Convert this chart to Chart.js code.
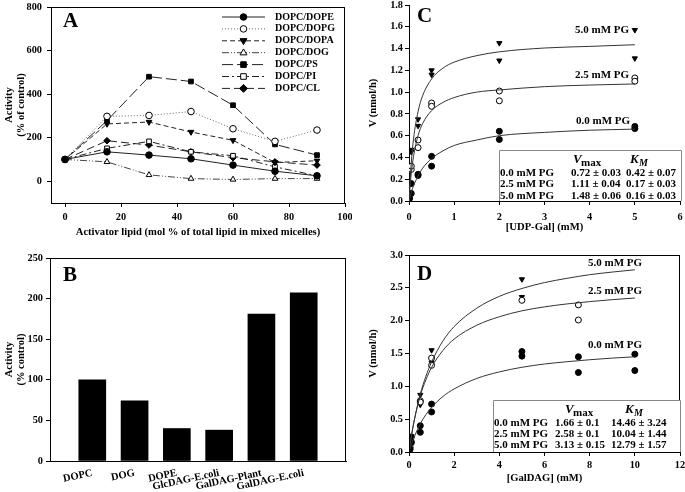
<!DOCTYPE html>
<html><head><meta charset="utf-8">
<script src="https://cdn.jsdelivr.net/npm/chart.js@4.4.0/dist/chart.umd.min.js"></script>
<style>
html,body{margin:0;padding:0;background:#fff;}
#wrap{position:relative;width:685px;height:492px;overflow:hidden;background:#fff;}
canvas{position:absolute;}
</style></head><body>
<div id="wrap">
<canvas id="cA" width="352" height="245" style="left:0;top:0"></canvas>
<canvas id="cB" width="352" height="247" style="left:0;top:245px"></canvas>
<canvas id="cC" width="333" height="245" style="left:352px;top:0"></canvas>
<canvas id="cD" width="333" height="247" style="left:352px;top:245px"></canvas>
</div>
<script>
// ---------- Panel A data ----------
const lipidPct = [0, 15, 30, 45, 60, 75, 90];
const namesA = ['DOPC/DOPE','DOPC/DOPG','DOPC/DOPA','DOPC/DOG','DOPC/PS','DOPC/PI','DOPC/CL'];
const dopcDope = [100, 135, 120, 103, 74, 46, 25];
const dopcDopg = [100, 298, 302, 320, 241, 183, 235];
const dopcDopa = [100, 263, 272, 226, 188, 86, 94];
const dopcDog  = [100, 89, 29, 12, 8, 12, 12];
const dopcPs   = [100, 278, 480, 458, 349, 169, 120];
const dopcPi   = [100, 151, 183, 135, 117, 66, 25];
const dopcCl   = [100, 186, 166, 135, 108, 89, 74];
const xTicksA = [0, 20, 40, 60, 80, 100];
const yTicksA = [0, 200, 400, 600, 800];

// ---------- Panel B data ----------
const lipidsB = ['DOPC','DOG','DOPE','GlcDAG-E.coli','GalDAG-Plant','GalDAG-E.coli'];
const activityB = [100, 74, 40, 38, 181, 207];
const yTicksB = [0, 50, 100, 150, 200, 250];

// ---------- Panel C data (UDP-Gal) ----------
const pgLevels = ['0.0 mM PG','2.5 mM PG','5.0 mM PG'];
const c00x = [0.01, 0.05, 0.05, 0.2, 0.2, 0.5, 0.5, 2, 2, 5, 5];
const c00y = [0.02, 0.07, 0.16, 0.235, 0.245, 0.41, 0.32, 0.64, 0.565, 0.685, 0.665];
const c25x = [0.01, 0.05, 0.05, 0.2, 0.2, 0.5, 0.5, 2, 2, 5, 5];
const c25y = [0.03, 0.29, 0.32, 0.56, 0.49, 0.90, 0.87, 1.01, 0.92, 1.13, 1.10];
const c50x = [0.01, 0.05, 0.05, 0.2, 0.2, 0.5, 0.5, 2, 2, 5, 5];
const c50y = [0.04, 0.47, 0.45, 0.75, 0.69, 1.20, 1.16, 1.45, 1.29, 1.57, 1.31];
const curveCx  = [0, 0.02, 0.05, 0.1, 0.2, 0.3, 0.5, 0.75, 1, 1.5, 2, 3, 4, 5];
const curveC00 = [0, 0.03, 0.08, 0.14, 0.23, 0.30, 0.39, 0.46, 0.51, 0.56, 0.60, 0.63, 0.65, 0.66];
const curveC25 = [0, 0.12, 0.25, 0.41, 0.60, 0.71, 0.83, 0.905, 0.95, 1.00, 1.02, 1.05, 1.065, 1.075];
const curveC50 = [0, 0.16, 0.35, 0.57, 0.82, 0.965, 1.12, 1.22, 1.275, 1.335, 1.37, 1.405, 1.42, 1.435];
const vmaxC = ['0.72 ± 0.03','1.11 ± 0.04','1.48 ± 0.06'];
const kmC   = ['0.42 ± 0.07','0.17 ± 0.03','0.16 ± 0.03'];
const xTicksC = [0, 1, 2, 3, 4, 5, 6];
const yTicksC = [0, 0.2, 0.4, 0.6, 0.8, 1.0, 1.2, 1.4, 1.6, 1.8];

// ---------- Panel D data (GalDAG) ----------
const d00x = [0.05, 0.1, 0.1, 0.5, 0.5, 1, 1, 5, 5, 7.5, 7.5, 10, 10];
const d00y = [0.04, 0.23, 0.14, 0.40, 0.30, 0.73, 0.61, 1.53, 1.46, 1.45, 1.21, 1.49, 1.24];
const d25x = [0.05, 0.1, 0.5, 0.5, 1, 1, 5, 7.5, 7.5];
const d25y = [0.07, 0.16, 0.78, 0.76, 1.43, 1.32, 2.31, 2.24, 2.01];
const d50x = [0.05, 0.1, 0.5, 0.5, 1, 1, 5, 5];
const d50y = [0.08, 0.24, 0.87, 0.72, 1.55, 1.36, 2.63, 2.36];
const curveDx  = [0, 0.1, 0.25, 0.5, 0.75, 1, 1.5, 2, 3, 4, 5, 6, 7, 8, 9, 10];
const curveD00 = [0, 0.11, 0.245, 0.43, 0.57, 0.68, 0.845, 0.96, 1.12, 1.22, 1.29, 1.34, 1.375, 1.405, 1.43, 1.45];
const curveD25 = [0, 0.23, 0.51, 0.86, 1.10, 1.29, 1.545, 1.72, 1.93, 2.06, 2.15, 2.21, 2.255, 2.29, 2.32, 2.345];
const curveD50 = [0, 0.23, 0.51, 0.88, 1.155, 1.37, 1.69, 1.91, 2.19, 2.37, 2.49, 2.58, 2.645, 2.70, 2.74, 2.775];
const vmaxD = ['1.66 ± 0.1','2.58 ± 0.1','3.13 ± 0.15'];
const kmD   = ['14.46 ± 3.24','10.04 ± 1.44','12.79 ± 1.57'];
const xTicksD = [0, 2, 4, 6, 8, 10, 12];
const yTicksD = [0, 0.5, 1.0, 1.5, 2.0, 2.5, 3.0];

// ---------- helpers ----------
const FF = '"Liberation Serif", "Times New Roman", serif';
const fnt = (s, w='bold', st='normal') => ({family: FF, size: s, weight: w, style: st, lineHeight: 1.15});
const pts = (xs, ys) => xs.map((x, i) => ({x, y: ys[i]}));

function marker(ctx, style, x, y, r, fill, stroke, rot) {
  ctx.save(); ctx.translate(x, y); if (rot) ctx.rotate(rot * Math.PI / 180);
  ctx.beginPath();
  if (style === 'circle') ctx.arc(0, 0, r, 0, 2 * Math.PI);
  else if (style === 'triangle') { ctx.moveTo(0, -r * 1.15); ctx.lineTo(r * 1.05, r * 0.65); ctx.lineTo(-r * 1.05, r * 0.65); ctx.closePath(); }
  else if (style === 'rect') ctx.rect(-r * 0.85, -r * 0.85, r * 1.7, r * 1.7);
  else if (style === 'rectRot') { ctx.moveTo(0, -r * 1.2); ctx.lineTo(r * 1.2, 0); ctx.lineTo(0, r * 1.2); ctx.lineTo(-r * 1.2, 0); ctx.closePath(); }
  ctx.setLineDash([]); ctx.fillStyle = fill; ctx.fill(); ctx.lineWidth = 1; ctx.strokeStyle = stroke; ctx.stroke();
  ctx.restore();
}

function yAxis(min, max, ticksArr, width, pad, fmt, title, titlePad) {
  return {
    type: 'linear', min, max,
    afterBuildTicks: s => { s.ticks = ticksArr.map(v => ({value: v})); },
    afterFit: s => { s.width = width; s.paddingTop = 0; s.paddingBottom = 0; },
    border: {display: true, color: '#000', width: 1},
    grid: {display: true, drawOnChartArea: false, drawTicks: true, tickLength: 4, color: '#000'},
    ticks: {color: '#000', font: fnt(10.3), padding: pad, callback: fmt},
    title: {display: true, text: title, color: '#000', font: fnt(10.5), padding: {top: titlePad, bottom: 0}}
  };
}
function xAxis(min, max, ticksArr, height, pad, title, titlePadBottom) {
  return {
    type: 'linear', min, max,
    afterBuildTicks: s => { s.ticks = ticksArr.map(v => ({value: v})); },
    afterFit: s => { s.height = height; s.paddingLeft = 0; s.paddingRight = 0; },
    border: {display: true, color: '#000', width: 1},
    grid: {display: true, drawOnChartArea: false, drawTicks: true, tickLength: 4, color: '#000'},
    ticks: {color: '#000', font: fnt(10.3), padding: pad, maxRotation: 0, autoSkip: false},
    title: {display: true, text: title, color: '#000', font: fnt(10.6), padding: {top: 0, bottom: titlePadBottom}}
  };
}

// annotation plugin: frame, panel letter, legend, labels, tables (page coordinates)
const annot = {
  id: 'annot',
  afterDraw(chart, args, o) {
    const ctx = chart.ctx, ca = chart.chartArea;
    ctx.save();
    if (o.frame) { ctx.strokeStyle = '#000'; ctx.lineWidth = 1; ctx.strokeRect(ca.left + 0.5, ca.top + 0.5, ca.right - ca.left - 1, ca.bottom - ca.top); }
    ctx.translate(-o.ox, -o.oy);
    ctx.fillStyle = '#000'; ctx.textBaseline = 'middle';
    ctx.font = 'bold 21px ' + FF; ctx.textAlign = 'left';
    ctx.fillText(o.letter, o.lx, o.ly);
    if (o.legend) {
      chart.data.datasets.forEach((ds, i) => {
        const y = 17 + i * 11.9;
        ctx.strokeStyle = ds.borderColor; ctx.lineWidth = 1; ctx.setLineDash(ds.borderDash || []);
        ctx.beginPath(); ctx.moveTo(222, y); ctx.lineTo(265, y); ctx.stroke();
        marker(ctx, ds.pointStyle, 243.5, y, 3.3, ds.pointBackgroundColor, '#000', ds.pointRotation || 0);
        ctx.fillStyle = '#000'; ctx.font = 'bold 10px ' + FF; ctx.textAlign = 'left';
        ctx.fillText(ds.label, 275, y);
      });
    }
    if (o.curveLabels) {
      ctx.font = 'bold 11px ' + FF; ctx.textAlign = 'left'; ctx.fillStyle = '#000';
      o.curveLabels.forEach(c => ctx.fillText(c.t, c.x, c.y));
    }
    if (o.table) {
      const t = o.table;
      ctx.fillStyle = '#fff'; ctx.fillRect(t.l, t.t, t.r - t.l, t.b - t.t);
      ctx.strokeStyle = '#888'; ctx.lineWidth = 1; ctx.setLineDash([]);
      ctx.beginPath(); ctx.moveTo(t.l + 0.5, t.b); ctx.lineTo(t.l + 0.5, t.t + 0.5); ctx.lineTo(t.r - 0.5, t.t + 0.5); ctx.lineTo(t.r - 0.5, t.b); ctx.stroke();
      ctx.fillStyle = '#000'; ctx.textAlign = 'left';
      ctx.font = 'italic bold 13px ' + FF; ctx.fillText('V', t.vx, t.hy);
      ctx.font = 'bold 11px ' + FF; ctx.fillText('max', t.vx + 8, t.hy + 3);
      ctx.font = 'italic bold 13px ' + FF; ctx.fillText('K', t.kx, t.hy);
      ctx.font = 'italic bold 10px ' + FF; ctx.fillText('M', t.kx + 9, t.hy + 3);
      ctx.font = 'bold 11px ' + FF;
      pgLevels.forEach((lab, i) => {
        const y = t.ry[i];
        ctx.fillText(lab, t.c1, y);
        ctx.fillText(t.vm[i], t.c2, y);
        ctx.fillText(t.km[i], t.c3, y);
      });
    }
    ctx.restore();
  }
};
Chart.register(annot);

// ---------- Panel A ----------
const seriesA = [dopcDope, dopcDopg, dopcDopa, dopcDog, dopcPs, dopcPi, dopcCl];
const styleA = [
  {dash: [], ps: 'circle', fill: '#000', rot: 0, col: '#222'},
  {dash: [1, 2], ps: 'circle', fill: '#fff', rot: 0, col: '#666'},
  {dash: [5, 3], ps: 'triangle', fill: '#000', rot: 180, col: '#222'},
  {dash: [7, 2, 1, 2, 1, 2], ps: 'triangle', fill: '#fff', rot: 0, col: '#444'},
  {dash: [11, 4], ps: 'rect', fill: '#000', rot: 0, col: '#222'},
  {dash: [7, 3, 2, 3], ps: 'rect', fill: '#fff', rot: 0, col: '#222'},
  {dash: [8, 4], ps: 'rectRot', fill: '#000', rot: 0, col: '#222'}
];
new Chart(document.getElementById('cA'), {
  type: 'line',
  data: {
    datasets: seriesA.map((ys, i) => ({
      label: namesA[i], data: pts(lipidPct, ys),
      borderColor: styleA[i].col, borderWidth: 1, borderDash: styleA[i].dash,
      pointStyle: styleA[i].ps, pointRotation: styleA[i].rot, pointRadius: 3.3,
      pointBackgroundColor: styleA[i].fill, pointBorderColor: '#000', pointBorderWidth: 1,
      tension: 0, fill: false
    }))
  },
  options: {
    responsive: false, animation: false, events: [],
    layout: {padding: {top: 7, right: 7, left: 0, bottom: 0}},
    plugins: {legend: {display: false}, tooltip: {enabled: false},
      annot: {ox: 0, oy: 0, frame: true, letter: 'A', lx: 63, ly: 22, legend: true}},
    scales: {
      x: xAxis(-5, 100, xTicksA, 42, 4, 'Activator lipid (mol % of total lipid in mixed micelles)', 7),
      y: yAxis(-100, 800, yTicksA, 51, 5, v => v, ['Activity', '(% of control)'], 3)
    }
  }
});

// ---------- Panel B ----------
new Chart(document.getElementById('cB'), {
  type: 'bar',
  data: {
    labels: ['', ...lipidsB, ''],
    datasets: [{data: [null, ...activityB, null], backgroundColor: '#000', borderWidth: 0, barThickness: 27}]
  },
  options: {
    responsive: false, animation: false, events: [],
    layout: {padding: {top: 13, right: 6, left: 0, bottom: 0}},
    plugins: {legend: {display: false}, tooltip: {enabled: false},
      annot: {ox: 0, oy: 245, frame: true, letter: 'B', lx: 63, ly: 276}},
    scales: {
      x: {
        type: 'category', offset: false,
        afterFit: s => { s.height = 31; s.paddingLeft = 0; s.paddingRight = 0; },
        border: {display: true, color: '#000', width: 1},
        grid: {display: false, drawTicks: false},
        ticks: {color: '#000', font: fnt(10.5), padding: 6, minRotation: 12, maxRotation: 12, autoSkip: false}
      },
      y: yAxis(0, 250, yTicksB, 50, 3, v => v, ['Activity', '(% control)'], 3)
    }
  }
});

// ---------- Panels C and D ----------
function mmChart(id, o) {
  const ptSty = [
    {ps: 'circle', fill: '#000', rot: 0},
    {ps: 'circle', fill: '#fff', rot: 0},
    {ps: 'triangle', fill: '#000', rot: 180}
  ];
  const ds = [];
  o.curves.forEach(cy => ds.push({type: 'line', data: pts(o.cx, cy), borderColor: '#333', borderWidth: 1,
    pointRadius: 0, cubicInterpolationMode: 'monotone', fill: false}));
  o.points.forEach((p, i) => ds.push({type: 'scatter', data: pts(p[0], p[1]), showLine: false,
    pointStyle: ptSty[i].ps, pointRotation: ptSty[i].rot, pointRadius: 3,
    pointBackgroundColor: ptSty[i].fill, pointBorderColor: '#000', pointBorderWidth: 1}));
  new Chart(document.getElementById(id), {
    type: 'scatter',
    data: {datasets: ds},
    options: {
      responsive: false, animation: false, events: [],
      layout: {padding: {top: o.padTop, right: o.padRight, left: 0, bottom: 0}},
      plugins: {legend: {display: false}, tooltip: {enabled: false}, annot: o.annot},
      scales: {
        x: xAxis(o.xr[0], o.xr[1], o.xt, o.xh, o.xpad, o.xtitle, o.xtp),
        y: yAxis(o.yr[0], o.yr[1], o.yt, 57, 2, v => v.toFixed(1), o.ytitle, 15)
      }
    }
  });
}

mmChart('cC', {
  cx: curveCx, curves: [curveC00, curveC25, curveC50],
  points: [[c00x, c00y], [c25x, c25y], [c50x, c50y]],
  padTop: 4, padRight: 4, xr: [0, 6], xt: xTicksC, xh: 44, xpad: 6, xtitle: '[UDP-Gal] (mM)', xtp: 12,
  yr: [0, 1.8], yt: yTicksC, ytitle: 'V (nmol/h)',
  annot: {ox: 352, oy: 0, frame: false, letter: 'C', lx: 417, ly: 17,
    curveLabels: [{t: pgLevels[2], x: 575, y: 30}, {t: pgLevels[1], x: 575, y: 75}, {t: pgLevels[0], x: 576, y: 121}],
    table: {l: 499, t: 150, r: 682, b: 201, vx: 573, kx: 630, hy: 160, ry: [173, 184.5, 196], c1: 500, c2: 571, c3: 626, vm: vmaxC, km: kmC}}
});

mmChart('cD', {
  cx: curveDx, curves: [curveD00, curveD25, curveD50],
  points: [[d00x, d00y], [d25x, d25y], [d50x, d50y]],
  padTop: 10, padRight: 5, xr: [0, 12], xt: xTicksD, xh: 40, xpad: 3, xtitle: '[GalDAG] (mM)', xtp: 8,
  yr: [0, 3], yt: yTicksD, ytitle: 'V (nmol/h)',
  annot: {ox: 352, oy: 245, frame: true, letter: 'D', lx: 417, ly: 275,
    curveLabels: [{t: pgLevels[2], x: 588, y: 263}, {t: pgLevels[1], x: 588, y: 291}, {t: pgLevels[0], x: 588, y: 345}],
    table: {l: 493, t: 400, r: 681, b: 452, vx: 565, kx: 625, hy: 410, ry: [423, 434, 445.5], c1: 494, c2: 555, c3: 611, vm: vmaxD, km: kmD}}
});
</script>
</body></html>
